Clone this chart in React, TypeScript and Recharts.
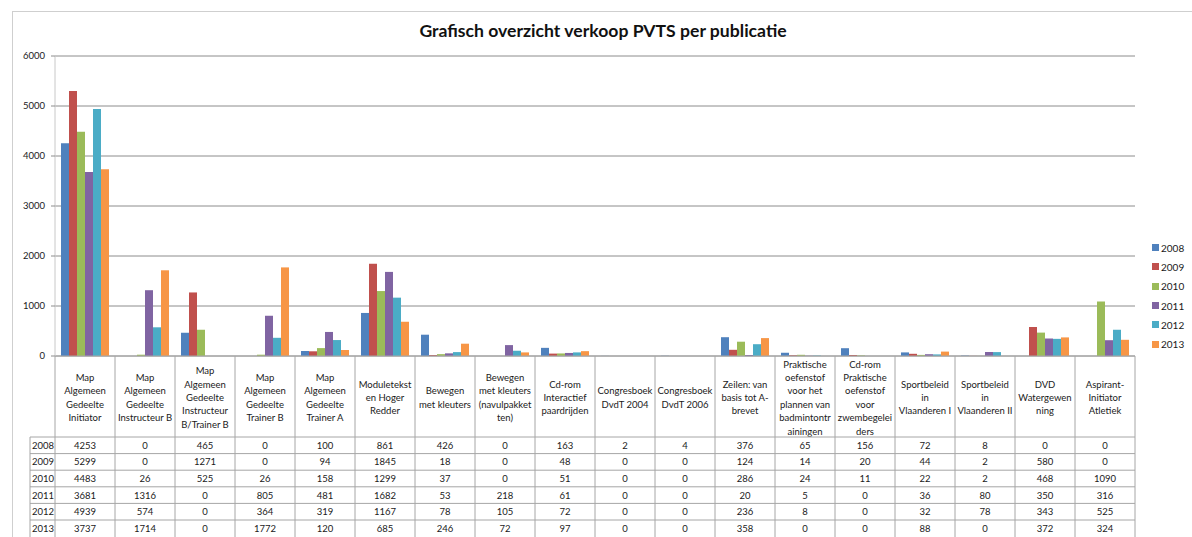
import { BarChart, Bar, XAxis, YAxis, CartesianGrid } from 'recharts';

// Verkoop PVTS per publicatie, 2008-2013
const categories = [
  'Map\nAlgemeen\nGedeelte\nInitiator',
  'Map\nAlgemeen\nGedeelte\nInstructeur B',
  'Map\nAlgemeen\nGedeelte\nInstructeur\nB/Trainer B',
  'Map\nAlgemeen\nGedeelte\nTrainer B',
  'Map\nAlgemeen\nGedeelte\nTrainer A',
  'Moduletekst\nen Hoger\nRedder',
  'Bewegen\nmet kleuters',
  'Bewegen\nmet kleuters\n(navulpakket\nten)',
  'Cd-rom\nInteractief\npaardrijden',
  'Congresboek\nDvdT 2004',
  'Congresboek\nDvdT 2006',
  'Zeilen: van\nbasis tot A-\nbrevet',
  'Praktische\noefenstof\nvoor het\nplannen van\nbadmintontr\nainingen',
  'Cd-rom\nPraktische\noefenstof\nvoor\nzwembegelei\nders',
  'Sportbeleid\nin\nVlaanderen I',
  'Sportbeleid\nin\nVlaanderen II',
  'DVD\nWatergewen\nning',
  'Aspirant-\nInitiator\nAtletiek',
];

const years = ['2008', '2009', '2010', '2011', '2012', '2013'];
const colors = ['#4F81BD', '#C0504D', '#9BBB59', '#8064A2', '#4BACC6', '#F79646'];

const sales2008 = [4253, 0, 465, 0, 100, 861, 426, 0, 163, 2, 4, 376, 65, 156, 72, 8, 0, 0];
const sales2009 = [5299, 0, 1271, 0, 94, 1845, 18, 0, 48, 0, 0, 124, 14, 20, 44, 2, 580, 0];
const sales2010 = [4483, 26, 525, 26, 158, 1299, 37, 0, 51, 0, 0, 286, 24, 11, 22, 2, 468, 1090];
const sales2011 = [3681, 1316, 0, 805, 481, 1682, 53, 218, 61, 0, 0, 20, 5, 0, 36, 80, 350, 316];
const sales2012 = [4939, 574, 0, 364, 319, 1167, 78, 105, 72, 0, 0, 236, 8, 0, 32, 78, 343, 525];
const sales2013 = [3737, 1714, 0, 1772, 120, 685, 246, 72, 97, 0, 0, 358, 0, 0, 88, 0, 372, 324];

const yTicks = [0, 1000, 2000, 3000, 4000, 5000, 6000];

const series = [sales2008, sales2009, sales2010, sales2011, sales2012, sales2013];

const data = categories.map((name, i) => {
  const row: Record<string, string | number> = { name };
  years.forEach((y, s) => {
    row[y] = series[s][i];
  });
  return row;
});

const W = 1192;
const H = 537;
const MARGIN = { top: 56, right: 57, bottom: 0, left: 0 };
const Y_AXIS_W = 55;
const X_AXIS_H = 181;
const PLOT_W = W - MARGIN.left - MARGIN.right - Y_AXIS_W;
const COL_W = PLOT_W / categories.length;

// table geometry
const TABLE_TOP = H - X_AXIS_H;
const HEADER_BOTTOM = 437;
const ROW_H = 16.6;
const YEAR_COL_LEFT = 30;
const LINE = '#a6a6a6';
const FONT = 'Lato, "DejaVu Sans", sans-serif';

function TableTick(props: any) {
  const { x, payload } = props;
  const idx = categories.indexOf(payload.value);
  const half = COL_W / 2;
  const lines = String(payload.value).split('\n');
  const lineH = 13.4;
  const centerY = (TABLE_TOP + HEADER_BOTTOM) / 2 + 1;
  const firstY = centerY - ((lines.length - 1) * lineH) / 2 + 3.5;
  const tableBottom = HEADER_BOTTOM + ROW_H * years.length;

  return (
    <g>
      {lines.map((ln, k) => (
        <text
          key={k}
          x={x}
          y={firstY + k * lineH}
          textAnchor="middle"
          fontSize={9.5}
          fontFamily={FONT}
          fill="#1a1a1a"
        >
          {ln}
        </text>
      ))}
      <line x1={x + half} x2={x + half} y1={TABLE_TOP} y2={tableBottom + 2} stroke={LINE} />
      {idx === 0 && (
        <line x1={x - half} x2={x - half} y1={TABLE_TOP} y2={tableBottom + 2} stroke={LINE} />
      )}
      {years.map((yr, r) => {
        const top = HEADER_BOTTOM + r * ROW_H;
        return (
          <g key={yr}>
            <line
              x1={idx === 0 ? YEAR_COL_LEFT : x - half}
              x2={x + half}
              y1={top}
              y2={top}
              stroke={LINE}
            />
            <text
              x={x}
              y={top + ROW_H / 2 + 3.5}
              textAnchor="middle"
              fontSize={9.5}
              fontFamily={FONT}
              fill="#1a1a1a"
            >
              {series[r][idx]}
            </text>
            {idx === 0 && (
              <text
                x={YEAR_COL_LEFT + 2}
                y={top + ROW_H / 2 + 3.5}
                fontSize={9.5}
                fontFamily={FONT}
                fill="#1a1a1a"
              >
                {yr}
              </text>
            )}
          </g>
        );
      })}
      {idx === 0 && (
        <line
          x1={YEAR_COL_LEFT}
          x2={YEAR_COL_LEFT}
          y1={HEADER_BOTTOM}
          y2={tableBottom + 2}
          stroke={LINE}
        />
      )}
    </g>
  );
}

export default function App() {
  return (
    <div
      style={{
        position: 'fixed',
        left: 0,
        top: 0,
        width: W,
        height: H,
        overflow: 'hidden',
        background: '#fff',
        fontFamily: FONT,
      }}
    >
      <div
        style={{
          position: 'absolute',
          left: 12,
          top: 11,
          width: W,
          height: H + 20,
          borderLeft: '1px solid #cfcfcf',
          borderTop: '1px solid #cfcfcf',
        }}
      />
      <div
        style={{
          position: 'absolute',
          left: 353,
          top: 20,
          width: 500,
          textAlign: 'center',
          fontWeight: 700,
          fontSize: 17.6,
          color: '#111',
        }}
      >
        Grafisch overzicht verkoop PVTS per publicatie
      </div>
      <div style={{ position: 'absolute', left: 0, top: 0 }}>
        <BarChart width={W} height={H} data={data} margin={MARGIN} barCategoryGap="10%" barGap={0}>
          <CartesianGrid vertical={false} stroke="#8c8c8c" />
          <XAxis
            dataKey="name"
            height={X_AXIS_H}
            interval={0}
            tickLine={false}
            axisLine={{ stroke: LINE }}
            tick={<TableTick />}
          />
          <YAxis
            width={Y_AXIS_W}
            domain={[0, 6000]}
            ticks={yTicks}
            tickSize={4}
            tickMargin={6}
            axisLine={{ stroke: '#c8c8c8' }}
            tickLine={{ stroke: '#8c8c8c' }}
            tick={{ fontSize: 9.5, fill: '#1a1a1a', fontFamily: FONT }}
          />
          {years.map((yr, s) => (
            <Bar key={yr} dataKey={yr} fill={colors[s]} isAnimationActive={false} />
          ))}
        </BarChart>
      </div>
      <div style={{ position: 'absolute', left: 1152, top: 238 }}>
        {years.map((yr, s) => (
          <div
            key={yr}
            style={{ display: 'flex', alignItems: 'center', height: 19.3, fontSize: 10, color: '#1a1a1a' }}
          >
            <span style={{ width: 7, height: 7, background: colors[s], marginRight: 2 }} />
            {yr}
          </div>
        ))}
      </div>
    </div>
  );
}
